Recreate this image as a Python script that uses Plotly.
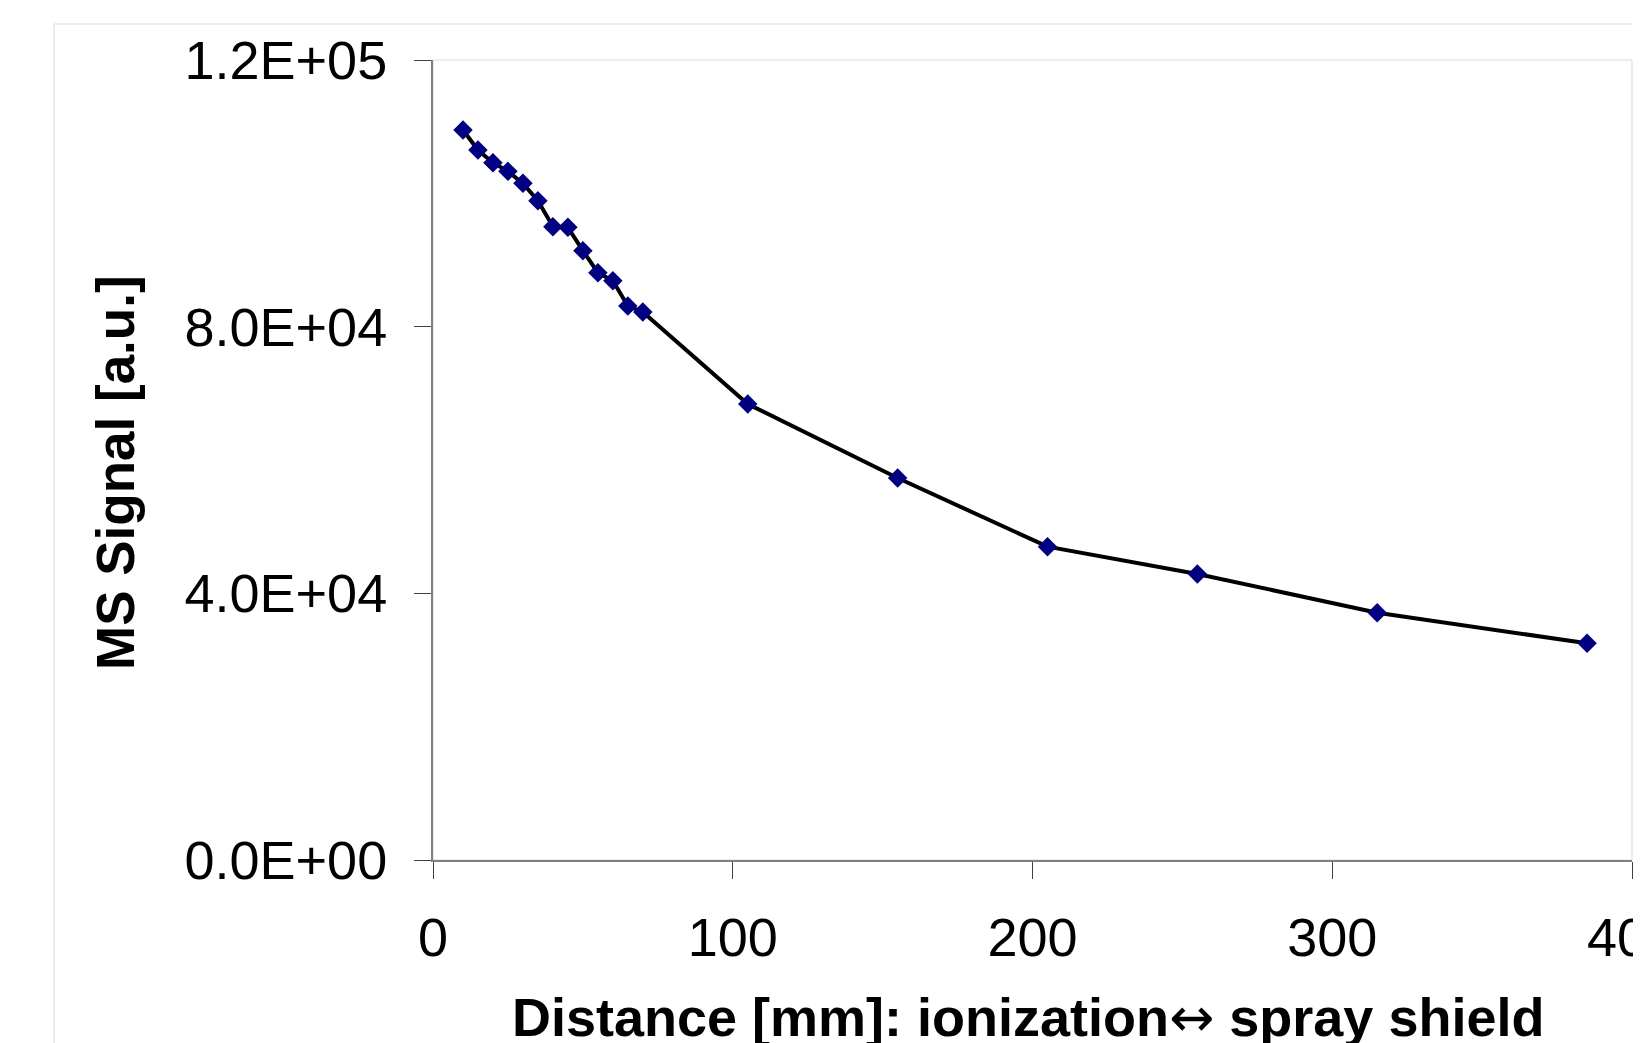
import plotly.graph_objects as go

# distance between ionization region and spray shield (mm) vs MS signal
distance = [10, 15, 20, 25, 30, 35, 40, 45, 50, 55, 60, 65, 70, 105, 155, 205, 255, 315, 385]
signal = [109500, 106500, 104600, 103300, 101500, 98900, 95000, 94900, 91400, 88100,
          86900, 83100, 82200, 68400, 57300, 47000, 42900, 37100, 32500]

y_ticks = [0, 40000, 80000, 120000]
y_ticktext = [f"{v:.1E}" for v in y_ticks]
x_ticks = [0, 100, 200, 300, 400]

# page body has an 8px margin, so work in page coords and shift
OFF = 8
W, H = 1641 - OFF, 1043 - OFF
L, R, T, B = 433 - OFF, 9, 60 - OFF, 1043 - 860
pw, ph = W - L - R, H - T - B

def px(x):
    return (x - OFF - L) / pw

def py(y):
    return (H - B - (y - OFF)) / ph

fig = go.Figure()
fig.add_trace(go.Scatter(
    x=distance, y=signal, mode="lines+markers",
    line=dict(color="black", width=4),
    marker=dict(symbol="diamond", size=15, color="#000080"),
    showlegend=False, cliponaxis=False,
))

font = "Liberation Sans, Arial, sans-serif"
arrow = "<span style='font-family:DejaVu Sans;font-weight:normal'>\u2194</span>"

fig.update_layout(
    width=W, height=H,
    margin=dict(l=L, r=R, t=T, b=B, autoexpand=False),
    paper_bgcolor="white", plot_bgcolor="white",
    font=dict(family=font, color="black"),
    xaxis=dict(
        range=[0, 400], tickvals=x_ticks, showgrid=False, zeroline=False,
        showline=True, linecolor="#808080", linewidth=2, automargin=False,
        ticks="outside", ticklen=17, tickcolor="#404040", tickwidth=1,
        tickfont=dict(size=54), ticklabelstandoff=12, ticklabeloverflow="allow",
    ),
    yaxis=dict(
        range=[0, 120000], tickvals=y_ticks, ticktext=y_ticktext,
        showgrid=False, zeroline=False, automargin=False,
        showline=True, linecolor="#808080", linewidth=2,
        ticks="outside", ticklen=17, tickcolor="#404040", tickwidth=1,
        tickfont=dict(size=54), ticklabelstandoff=16, ticklabeloverflow="allow",
    ),
    shapes=[
        # outer chart frame
        dict(type="rect", xref="paper", yref="paper",
             x0=px(54), x1=px(1650), y0=py(1050), y1=py(24),
             line=dict(color="#d9d9d9", width=1), layer="below"),
        # plot area frame (top/right)
        dict(type="rect", xref="paper", yref="paper", x0=0, x1=1, y0=0, y1=1,
             line=dict(color="#d9d9d9", width=1), layer="below"),
    ],
    annotations=[
        dict(text="<b>MS Signal [a.u.]</b>", xref="paper", yref="paper",
             x=px(115), y=py(473), xanchor="center", yanchor="middle",
             textangle=-90, showarrow=False, font=dict(size=53)),
        dict(text=f"<b>Distance [mm]: ionization{arrow} spray shield</b>", xref="paper", yref="paper",
             x=px(1028), y=py(984), xanchor="center", yanchor="top",
             showarrow=False, font=dict(size=54)),
    ],
)

fig.write_html("out.html")
